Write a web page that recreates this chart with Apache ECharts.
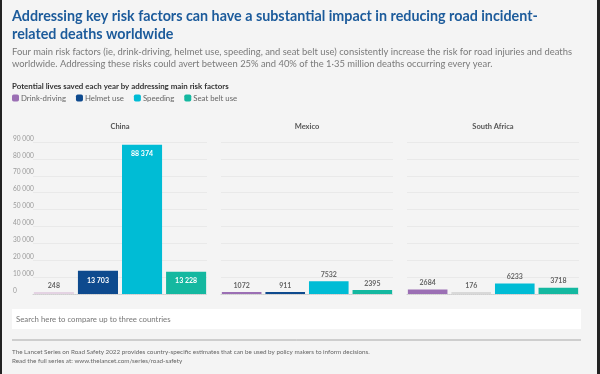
<!DOCTYPE html>
<html><head><meta charset="utf-8">
<script src="https://cdn.jsdelivr.net/npm/echarts@6/dist/echarts.min.js"></script>
<style>html,body{margin:0;padding:0;background:#f4f4f4}#c{width:600px;height:374px}</style>
</head><body><div id="c"></div>
<script>
const countries = ['China', 'Mexico', 'South Africa'];
const factors = ['Drink-driving', 'Helmet use', 'Speeding', 'Seat belt use'];
const drinkDriving = [248, 1072, 2684];
const helmetUse = [13703, 911, 176];
const speeding = [88374, 7532, 6233];
const seatBeltUse = [13228, 2395, 3718];
const yTicks = [0, 10000, 20000, 30000, 40000, 50000, 60000, 70000, 80000, 90000];

const values = [drinkDriving, helmetUse, speeding, seatBeltUse];
const colors = ['#9b6fb4', '#0e4a8e', '#00bcd5', '#14b8a0'];
const pale = {'0-0': '#e4d3e3', '2-1': '#d9d9d9'};
const font = 'Lato, "Open Sans", sans-serif';
const gridX = [[33, 207], [221, 393], [407, 579]];
const fmt = v => v >= 10000 ? String(v).replace(/\B(?=(\d{3})+(?!\d))/g, ' ') : String(v);

const grids = [], xAxes = [], yAxes = [], series = [], titles = [];
titles.push({text: 'Addressing key risk factors can have a substantial impact in reducing road incident-\nrelated deaths worldwide',
  left: 12, top: 7, padding: 0, textStyle: {fontFamily: font, fontSize: 14.3, fontWeight: 'bold', color: '#1c5b9b', lineHeight: 18}});
titles.push({text: 'Four main risk factors (ie, drink-driving, helmet use, speeding, and seat belt use) consistently increase the risk for road injuries and deaths\nworldwide. Addressing these risks could avert between 25% and 40% of the 1·35 million deaths occurring every year.',
  left: 12, top: 46, padding: 0, textStyle: {fontFamily: font, fontSize: 9.4, fontWeight: 'normal', color: '#7a7a7a', lineHeight: 12}});
titles.push({text: 'Potential lives saved each year by addressing main risk factors', left: 12, top: 82, padding: 0,
  textStyle: {fontFamily: font, fontSize: 7.9, fontWeight: 'bold', color: '#333'}});

countries.forEach((c, ci) => {
  const [x0, x1] = gridX[ci];
  grids.push({left: x0, width: x1 - x0, top: 142, height: 152});
  titles.push({text: c, left: (x0 + x1) / 2, top: 123, padding: 0, textAlign: 'center',
    textStyle: {fontFamily: font, fontSize: 7.5, fontWeight: 'bold', color: '#555'}});
  xAxes.push({type: 'category', gridIndex: ci, data: [c], axisLabel: {show: false}, axisTick: {show: false},
    axisLine: {show: true, lineStyle: {color: '#cfcfcf', type: [1, 1]}}});
  yAxes.push({type: 'value', gridIndex: ci, min: 0, max: 90000, interval: 10000,
    axisLine: {show: false}, axisTick: {show: false},
    splitLine: {lineStyle: {color: '#e4e4e4', width: 0.7}},
    axisLabel: {show: ci === 0, align: 'left', margin: 20, verticalAlign: 'bottom', fontFamily: font, fontSize: 6.6, color: '#9a9a9a',
      formatter: v => yTicks.includes(v) ? String(v).replace(/\B(?=(\d{3})+(?!\d))/g, ' ') : ''}});
  factors.forEach((f, fi) => {
    const v = values[fi][ci];
    const key = ci + '-' + fi;
    const big = v > 10000;
    series.push({name: f, type: 'bar', xAxisIndex: ci, yAxisIndex: ci,
      barCategoryGap: '1%', barGap: '10%', barMinHeight: 2, itemStyle: {color: colors[fi]},
      data: [{value: v, itemStyle: pale[key] ? {color: pale[key]} : undefined}],
      label: {show: true, position: big ? 'insideTop' : 'top', distance: big ? 6 : 3,
        fontFamily: font, fontSize: 7, fontWeight: 'bold', color: big ? '#fff' : '#666', formatter: p => fmt(p.value)},
      animation: false});
  });
});

const chart = echarts.init(document.getElementById('c'), null, {renderer: 'canvas'});
chart.setOption({
  backgroundColor: '#f4f4f4',
  animation: false,
  title: titles,
  legend: {left: 12, top: 94, padding: 0, itemWidth: 7, itemHeight: 7, itemGap: 10, icon: 'roundRect',
    data: factors, textStyle: {fontFamily: font, fontSize: 7.8, color: '#666', padding: [0, 0, 0, -3]}},
  grid: grids, xAxis: xAxes, yAxis: yAxes, series: series,
  graphic: [
    {type: 'rect', shape: {x: 12, y: 309, width: 569, height: 20}, style: {fill: '#fff'}},
    {type: 'text', x: 16, y: 319, style: {text: 'Search here to compare up to three countries', fontFamily: font, fontSize: 7.8, fill: '#777', verticalAlign: 'middle'}},
    {type: 'line', shape: {x1: 12, y1: 340, x2: 581, y2: 340}, style: {stroke: '#a8a8a8', lineWidth: 1}},
    {type: 'text', x: 12, y: 352, style: {text: 'The Lancet Series on Road Safety 2022 provides country-specific estimates that can be used by policy makers to inform decisions.', fontFamily: font, fontSize: 6.3, fill: '#666', verticalAlign: 'middle'}},
    {type: 'text', x: 12, y: 361, style: {text: 'Read the full series at: www.thelancet.com/series/road-safety', fontFamily: font, fontSize: 6.3, fill: '#666', verticalAlign: 'middle'}},
    {type: 'rect', shape: {x: 0, y: 0, width: 2, height: 374}, style: {fill: '#222'}},
    {type: 'rect', shape: {x: 597, y: 0, width: 3, height: 374}, style: {fill: '#222'}}
  ]
});
</script></body></html>
